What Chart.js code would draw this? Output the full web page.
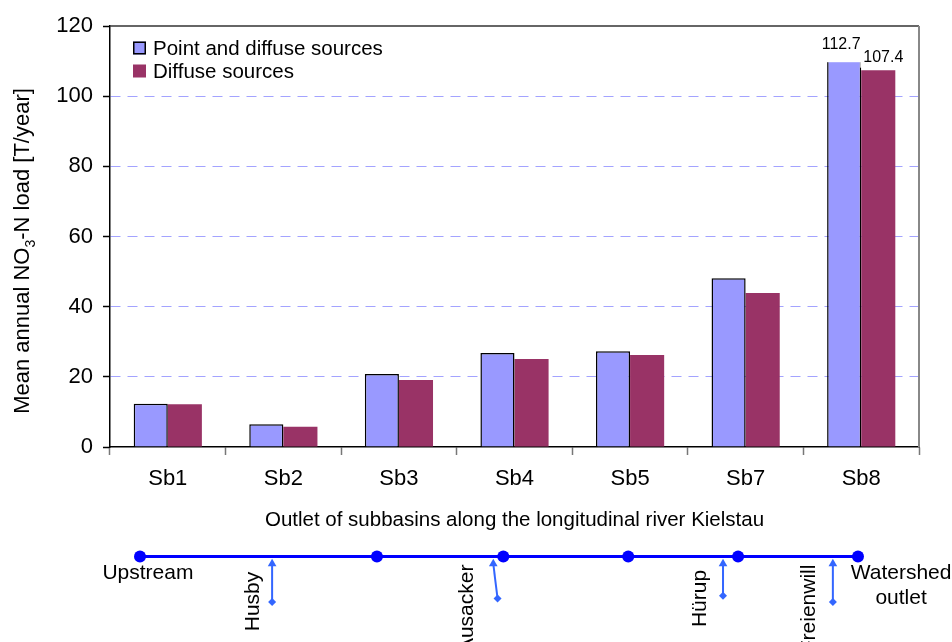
<!DOCTYPE html>
<html><head><meta charset="utf-8">
<script src="https://cdn.jsdelivr.net/npm/chart.js@4.4.0/dist/chart.umd.min.js"></script>
<style>
html,body{margin:0;padding:0;background:#fff;}
#wrap{position:relative;width:952px;height:642px;overflow:hidden;background:#fff;}
canvas{position:absolute;left:0;}
#main{top:0;}
#river{top:530px;}
</style></head><body>
<div id="wrap"><canvas id="main" width="952" height="540"></canvas><canvas id="river" width="952" height="112"></canvas></div>
<script>
// ---------- data ----------
const categories = ['Sb1', 'Sb2', 'Sb3', 'Sb4', 'Sb5', 'Sb7', 'Sb8'];
const pointAndDiffuse = [12.3, 6.5, 20.8, 26.8, 27.3, 48.1, 112.7];
const diffuseOnly = [12.2, 5.8, 19.1, 25.1, 26.2, 43.9, 107.4];
const seriesNames = ['Point and diffuse sources', 'Diffuse sources'];
const yTicks = [0, 20, 40, 60, 80, 100, 120];
const labelledCategory = 'Sb8';
const yTitleParts = ['Mean annual NO', '3', '-N load [T/year]'];
const xTitle = 'Outlet of subbasins along the longitudinal river Kielstau';

// river schematic (relative distance along the river, 0 = upstream, 100 = outlet)
const riverStations = [0, 33.0, 50.6, 68.0, 83.3, 100];
const tributaryNames = ['Husby', 'Ausacker', 'Hürup', 'Freienwill'];
const tributaryMouth = [18.4, 49.2, 81.2, 96.5];
const tributarySource = [18.4, 49.8, 81.2, 96.5];
const tributaryReach = [-51, -47, -44, -51];
const endNames = ['Upstream', 'Watershed', 'outlet'];

// ---------- style / layout ----------
const FONT = '"Liberation Sans", Arial, sans-serif';
const BLUE = '#9999FF', PURPLE = '#993366';
const tribLabelX = [15.6, 45.5, 77.9, 93.0];
const tribLabelTop = [-17, -9, -15, -9];
const endLabelPos = [[1.1, -19], [106, -19], [106, -47]];

const framePlugin = {
  id: 'frame',
  afterDraw(chart) {
    const {ctx, chartArea: a} = chart;
    ctx.save();
    ctx.lineWidth = 1.5; ctx.strokeStyle = '#333';
    ctx.beginPath(); ctx.moveTo(a.left, a.top); ctx.lineTo(a.right, a.top); ctx.stroke();
    ctx.lineWidth = 2; ctx.strokeStyle = '#888';
    ctx.beginPath(); ctx.moveTo(a.right, a.top); ctx.lineTo(a.right, a.bottom); ctx.stroke();
    ctx.restore();
  }
};

const legendPlugin = {
  id: 'insideLegend',
  afterDraw(chart) {
    const {ctx, chartArea: a} = chart;
    ctx.save();
    ctx.font = '20.5px ' + FONT; ctx.textBaseline = 'middle'; ctx.fillStyle = '#000';
    chart.data.datasets.forEach((ds, i) => {
      const cy = a.top + 22 + i * 23;
      const x0 = a.left + 23;
      ctx.fillStyle = ds.backgroundColor;
      ctx.fillRect(x0, cy - 6.5, 13, 13);
      if (ds.borderWidth) { ctx.strokeStyle = '#000'; ctx.lineWidth = 1.5; ctx.strokeRect(x0 + 0.75, cy - 5.75, 11.5, 11.5); }
      ctx.fillStyle = '#000';
      ctx.fillText(ds.label, x0 + 20, cy + 1);
    });
    ctx.restore();
  }
};

const yTitlePlugin = {
  id: 'yTitle',
  afterDraw(chart) {
    const {ctx} = chart;
    const big = '22px ' + FONT, small = '14px ' + FONT;
    ctx.save();
    ctx.font = big; const w0 = ctx.measureText(yTitleParts[0]).width; const w2 = ctx.measureText(yTitleParts[2]).width;
    ctx.font = small; const w1 = ctx.measureText(yTitleParts[1]).width;
    const total = w0 + w1 + w2;
    ctx.translate(22, 251); ctx.rotate(-Math.PI / 2);
    ctx.fillStyle = '#000'; ctx.textBaseline = 'middle'; ctx.textAlign = 'left';
    let x = -total / 2;
    ctx.font = big; ctx.fillText(yTitleParts[0], x, 1); x += w0;
    ctx.font = small; ctx.fillText(yTitleParts[1], x, 9); x += w1;
    ctx.font = big; ctx.fillText(yTitleParts[2], x, 1);
    ctx.restore();
  }
};

const valueLabelPlugin = {
  id: 'valueLabels',
  afterDatasetsDraw(chart) {
    const {ctx} = chart;
    const idx = chart.data.labels.indexOf(labelledCategory);
    const offs = [{dx: -3, dy: -8, below: 18.6}, {dx: 5, dy: -13.5, below: 11}];
    ctx.save();
    ctx.font = '16px ' + FONT; ctx.textAlign = 'center'; ctx.textBaseline = 'middle';
    chart.data.datasets.forEach((ds, i) => {
      const bar = chart.getDatasetMeta(i).data[idx];
      const o = offs[i];
      const txt = ds.data[idx].toFixed(1);
      const w = ctx.measureText(txt).width + 6;
      const cx = bar.x + o.dx, cy = bar.y + o.dy;
      ctx.fillStyle = '#fff';
      ctx.fillRect(cx - w / 2, cy - 11, w, 11 + o.below);
      ctx.fillStyle = '#000';
      ctx.fillText(txt, cx, cy + 1);
    });
    ctx.restore();
  }
};

new Chart(document.getElementById('main'), {
  type: 'bar',
  data: {
    labels: categories,
    datasets: [
      {label: seriesNames[0], data: pointAndDiffuse, backgroundColor: BLUE, borderColor: '#000', borderWidth: 1.5},
      {label: seriesNames[1], data: diffuseOnly, backgroundColor: PURPLE, borderWidth: 0}
    ]
  },
  options: {
    responsive: false, animation: false, devicePixelRatio: 1,
    layout: {padding: {top: 26, right: 33, left: 0, bottom: 0}},
    datasets: {bar: {categoryPercentage: 0.59, barPercentage: 1}},
    plugins: {legend: {display: false}, tooltip: {enabled: false}},
    scales: {
      x: {
        grid: {offset: true, drawOnChartArea: false, drawTicks: true, tickLength: 8, tickColor: '#777', tickWidth: 1.5},
        border: {color: '#000', width: 1.5},
        ticks: {color: '#000', font: {family: FONT, size: 22}, padding: 11, maxRotation: 0},
        title: {display: true, text: xTitle, color: '#000', font: {family: FONT, size: 20.5}, padding: {top: 0, bottom: 7}},
        afterFit(s) { s.height = 93; }
      },
      y: {
        min: 0, max: 120,
        afterBuildTicks(s) { s.ticks = yTicks.map(v => ({value: v})); },
        ticks: {color: '#000', font: {family: FONT, size: 22}, padding: 10},
        grid: {
          color: c => (c.tick && c.tick.value > 0 && c.tick.value < 120) ? '#a3a3ff' : 'rgba(0,0,0,0)',
          lineWidth: 1, tickColor: '#000', tickLength: 7, tickWidth: 1.5
        },
        border: {color: '#000', width: 1.5, dash: [10, 7]},
        afterFit(s) { s.width = 110; }
      }
    }
  },
  plugins: [framePlugin, legendPlugin, yTitlePlugin, valueLabelPlugin]
});

// ---------- river schematic ----------
const riverLabelPlugin = {
  id: 'riverLabels',
  afterDraw(chart) {
    const {ctx, scales: {x, y}} = chart;
    ctx.save();
    ctx.font = '21px ' + FONT; ctx.fillStyle = '#000';
    ctx.textAlign = 'center'; ctx.textBaseline = 'middle';
    endNames.forEach((n, i) => ctx.fillText(n, x.getPixelForValue(endLabelPos[i][0]), y.getPixelForValue(endLabelPos[i][1])));
    tributaryNames.forEach((n, i) => {
      ctx.save();
      ctx.translate(x.getPixelForValue(tribLabelX[i]), y.getPixelForValue(tribLabelTop[i]));
      ctx.rotate(-Math.PI / 2);
      ctx.textAlign = 'right'; ctx.textBaseline = 'middle';
      ctx.fillText(n, 0, 1);
      ctx.restore();
    });
    ctx.restore();
  }
};

const tributaryDatasets = tributaryNames.map((n, i) => ({
  label: n,
  data: [{x: tributaryMouth[i], y: -8}, {x: tributarySource[i], y: tributaryReach[i]}],
  showLine: true, borderColor: '#3366FF', borderWidth: 2, backgroundColor: '#3366FF',
  pointStyle: ['triangle', 'rectRot'], pointRadius: [5, 4], pointBorderWidth: 0, clip: false
}));

new Chart(document.getElementById('river'), {
  type: 'scatter',
  data: {
    datasets: [
      {label: 'river', data: riverStations.map(v => ({x: v, y: 0})), showLine: true,
       borderColor: '#0000FF', borderWidth: 3, backgroundColor: '#0000FF', pointRadius: 6, pointBorderWidth: 0, clip: false}
    ].concat(tributaryDatasets)
  },
  options: {
    responsive: false, animation: false, devicePixelRatio: 1,
    layout: {padding: {left: 140, right: 94, top: 0, bottom: 0}},
    plugins: {legend: {display: false}, tooltip: {enabled: false}},
    scales: {
      x: {type: 'linear', min: 0, max: 100, display: false},
      y: {type: 'linear', min: -89, max: 23, display: false}
    }
  },
  plugins: [riverLabelPlugin]
});
</script>
</body></html>
